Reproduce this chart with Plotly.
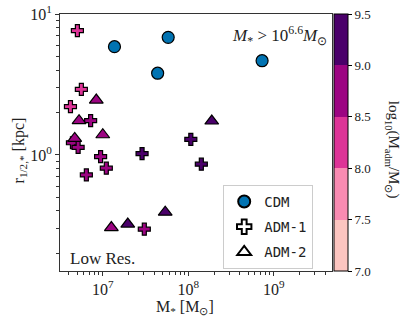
import plotly.graph_objects as go

# CDM haloes
cdm_mstar = [1.37e7, 5.82e7, 4.38e7, 7.29e8]
cdm_rhalf = [5.86, 6.83, 3.80, 4.66]

# ADM-1 (plus markers)
adm1_mstar = [5.05e6, 5.62e6, 4.19e6, 7.21e6, 4.42e6, 5.15e6, 9.43e6,
              1.10e7, 6.43e6, 3.06e7, 2.88e7, 1.07e8, 1.42e8]
adm1_rhalf = [7.61, 2.92, 2.20, 1.75, 1.22, 1.13, 0.973,
              0.805, 0.721, 0.297, 1.02, 1.29, 0.859]
adm1_logmadm = [8.25, 8.25, 8.25, 8.75, 8.75, 8.75, 8.75,
                8.75, 8.75, 8.75, 9.25, 9.25, 9.25]

# ADM-2 (triangles)
adm2_mstar = [8.40e6, 5.28e6, 1.00e7, 4.70e6, 1.26e7, 1.96e7, 5.37e7, 1.88e8]
adm2_rhalf = [2.45, 1.75, 1.39, 1.31, 0.305, 0.323, 0.392, 1.74]
adm2_logmadm = [8.75, 8.75, 8.75, 8.75, 8.75, 9.25, 9.25, 9.25]

# colour bins
cbar_bounds = [7.0, 7.5, 8.0, 8.5, 9.0, 9.5]
cbar_colors = ['#fcc5c0', '#f98bb2', '#dd3497', '#9c0482', '#4a006a']
cbar_ticktext = ['7.0', '7.5', '8.0', '8.5', '9.0', '9.5']

x_tickvals = [1e7, 1e8, 1e9]
x_ticktext = ['10<sup>7</sup>', '10<sup>8</sup>', '10<sup>9</sup>']
y_tickvals = [1, 10]
y_ticktext = ['10<sup>0</sup>', '10<sup>1</sup>']

SERIF = "Liberation Serif"
MONO = "DejaVu Sans Mono"
TXT = '#222'

lo, hi = cbar_bounds[0], cbar_bounds[-1]
colorscale = []
for i, c in enumerate(cbar_colors):
    colorscale.append([(cbar_bounds[i] - lo) / (hi - lo), c])
    colorscale.append([(cbar_bounds[i + 1] - lo) / (hi - lo), c])

edge = dict(color='black', width=1.2)

fig = go.Figure()

fig.add_trace(go.Scatter(
    x=cdm_mstar, y=cdm_rhalf, mode='markers', name='CDM', legendgroup='cdm',
    marker=dict(symbol='circle', size=12, color='#0173b2', line=edge),
))

fig.add_trace(go.Scatter(
    x=adm1_mstar, y=adm1_rhalf, mode='markers', name='ADM-1', showlegend=False,
    marker=dict(symbol='cross', size=10, color=adm1_logmadm,
                colorscale=colorscale, cmin=lo, cmax=hi, line=edge,
                showscale=True,
                colorbar=dict(
                    x=1.007, xanchor='left', xpad=0, ypad=0,
                    y=0.5, yanchor='middle', len=1.0, lenmode='fraction',
                    thickness=14, outlinewidth=1, outlinecolor='black',
                    tickmode='array', tickvals=cbar_bounds, ticktext=cbar_ticktext,
                    ticks='outside', ticklen=4, tickcolor='black',
                    tickfont=dict(family=SERIF, size=13, color=TXT),
                ))),
)

fig.add_trace(go.Scatter(
    x=adm2_mstar, y=adm2_rhalf, mode='markers', name='ADM-2', showlegend=False,
    marker=dict(symbol='triangle-up', size=12, color=adm2_logmadm,
                colorscale=colorscale, cmin=lo, cmax=hi, line=edge,
                showscale=False),
))

# legend-only entries (white markers)
fig.add_trace(go.Scatter(x=[None], y=[None], mode='markers', name='ADM-1', legendgroup='adm1',
                         marker=dict(symbol='cross', size=10, color='white', line=edge)))
fig.add_trace(go.Scatter(x=[None], y=[None], mode='markers', name='ADM-2', legendgroup='adm2',
                         marker=dict(symbol='triangle-up', size=12, color='white', line=edge)))

axis_common = dict(
    type='log', showgrid=False, zeroline=False,
    showline=True, linecolor='#333', linewidth=1, mirror=True,
    ticks='outside', ticklen=4, tickcolor='#333',
    tickfont=dict(family=SERIF, size=16, color=TXT),
    minor=dict(ticks='outside', ticklen=3, tickcolor='#333', dtick='D1', showgrid=False),
    automargin=False,
)

fig.update_layout(
    width=407, height=324,
    margin=dict(l=60, r=75, t=14, b=53, autoexpand=False),
    paper_bgcolor='white', plot_bgcolor='white',
    font=dict(family=SERIF, size=14, color=TXT),
    xaxis=dict(axis_common, range=[6.5, 9.68],
               tickmode='array', tickvals=x_tickvals, ticktext=x_ticktext),
    yaxis=dict(axis_common, range=[-0.824, 1.0],
               tickmode='array', tickvals=y_tickvals, ticktext=y_ticktext),
    legend=dict(x=0.6, y=0.335, xanchor='left', yanchor='top',
                bgcolor='white', bordercolor='#cccccc', borderwidth=1,
                font=dict(family=MONO, size=14, color=TXT),
                itemsizing='constant', tracegroupgap=4, entrywidth=80),
)

# axis titles
fig.add_annotation(
    text='M<sub>*</sub> [M<sub>⊙</sub>]', xref='paper', yref='paper',
    x=0.46, y=-0.142, xanchor='center', yanchor='middle', showarrow=False,
    font=dict(family=SERIF, size=16, color=TXT),
)
fig.add_annotation(
    text='r<sub>1/2,*</sub> [kpc]', xref='paper', yref='paper',
    x=-0.15, y=0.47, xanchor='center', yanchor='middle', textangle=-90,
    showarrow=False, font=dict(family=SERIF, size=16, color=TXT),
)
fig.add_annotation(
    text='log<sub>10</sub>(M<sub>adm</sub>/M<sub>⊙</sub>)',
    xref='paper', yref='paper', x=1.222, y=0.47, xanchor='center', yanchor='middle',
    textangle=90, showarrow=False, font=dict(family=SERIF, size=15, color=TXT),
)

# in-panel labels
fig.add_annotation(
    text='<i>M</i><sub>*</sub> > 10<sup>6.6</sup><i>M</i><sub>⊙</sub>',
    xref='paper', yref='paper', x=0.99, y=0.915, xanchor='right', yanchor='middle',
    showarrow=False, font=dict(family=SERIF, size=17, color=TXT),
)
fig.add_annotation(
    text='Low Res.', xref='paper', yref='paper', x=0.03, y=0.048,
    xanchor='left', yanchor='middle', showarrow=False,
    font=dict(family=SERIF, size=17, color=TXT),
)

# page body has an 8px default margin; drop it so the figure fills the window
fig.write_html("out.html", config=dict(displayModeBar=False),
               post_script="document.body.style.margin='0';")
